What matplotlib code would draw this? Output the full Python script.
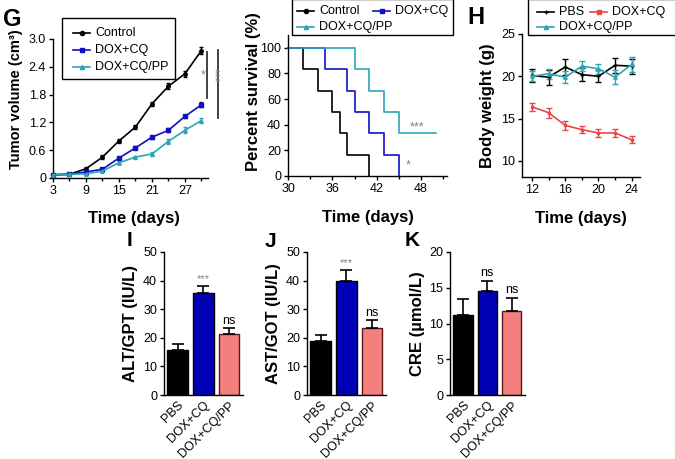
import matplotlib
matplotlib.use("Agg")
import matplotlib.pyplot as plt
from matplotlib.lines import Line2D
from matplotlib.patches import Rectangle

plt.rcParams['font.family'] = ['Liberation Sans', 'DejaVu Sans']
plt.rcParams['font.size'] = 9
plt.rcParams['axes.linewidth'] = 1.0

# ---- data ----
groups3 = ["Control", "DOX+CQ", "DOX+CQ/PP"]
tv_days = [3, 6, 9, 12, 15, 18, 21, 24, 27, 30]
tv_control = [0.07, 0.08, 0.20, 0.45, 0.80, 1.10, 1.60, 1.98, 2.25, 2.75]
tv_control_err = [0.02, 0.02, 0.04, 0.04, 0.05, 0.05, 0.05, 0.06, 0.07, 0.08]
tv_doxcq = [0.07, 0.08, 0.13, 0.19, 0.43, 0.65, 0.88, 1.03, 1.33, 1.58]
tv_doxcq_err = [0.01, 0.01, 0.02, 0.03, 0.02, 0.03, 0.03, 0.04, 0.04, 0.05]
tv_pp = [0.07, 0.08, 0.09, 0.15, 0.33, 0.45, 0.52, 0.79, 1.03, 1.24]
tv_pp_err = [0.01, 0.01, 0.02, 0.02, 0.03, 0.03, 0.04, 0.05, 0.06, 0.06]

sv_control_t = [30, 32, 34, 36, 37, 38, 41]
sv_control = [100, 83.3, 66.7, 50, 33.3, 16.7, 0]
sv_doxcq_t = [30, 35, 38, 39, 41, 43, 45]
sv_doxcq = [100, 83.3, 66.7, 50, 33.3, 16.7, 0]
sv_pp_t = [30, 39, 41, 43, 45, 50]
sv_pp = [100, 83.3, 66.7, 50, 33.3, 33.3]

bw_groups = ["PBS", "DOX+CQ", "DOX+CQ/PP"]
bw_days = [12, 14, 16, 18, 20, 22, 24]
bw_pbs = [20.1, 19.9, 21.1, 20.2, 20.0, 21.3, 21.2]
bw_pbs_err = [0.8, 0.9, 0.9, 0.8, 0.7, 0.9, 0.9]
bw_doxcq = [16.4, 15.7, 14.2, 13.7, 13.3, 13.3, 12.5]
bw_doxcq_err = [0.5, 0.6, 0.5, 0.4, 0.5, 0.5, 0.4]
bw_pp = [20.0, 20.3, 19.9, 21.2, 20.9, 19.9, 21.4]
bw_pp_err = [0.6, 0.6, 0.7, 0.6, 0.6, 0.8, 0.9]

bar_labels = ["PBS", "DOX+CQ", "DOX+CQ/PP"]
alt = [15.7, 35.8, 21.3]
alt_err = [2.1, 2.4, 2.2]
ast = [18.8, 40.0, 23.5]
ast_err = [2.1, 3.8, 2.6]
cre = [11.2, 14.6, 11.8]
cre_err = [2.2, 1.4, 1.8]
alt_sig = ["", "***", "ns"]
ast_sig = ["", "***", "ns"]
cre_sig = ["", "ns", "ns"]

black = "#000000"
blue = "#1010c0"
teal = "#2aa5b5"
red = "#e8474d"
barblue = "#0000b4"
pink = "#f47f7f"

W, H = 675, 459
fig = plt.figure(figsize=(W / 100, H / 100), dpi=100)


def add_ax(l, t, r, b):
    ax = fig.add_axes([l / W, 1 - b / H, (r - l) / W, (b - t) / H])
    ax.spines['top'].set_visible(False)
    ax.spines['right'].set_visible(False)
    ax.tick_params(length=3, width=1, pad=2, labelsize=9)
    return ax


def fx(x):
    return x / W


def fy(y):
    return 1 - y / H


def legend_box(box, items):
    # hand-placed legend, items: (handle x, row y, colour, marker, label)
    l, t, r, b = box
    fig.patches.append(Rectangle((fx(l), fy(b)), fx(r - l), (b - t) / H,
                                 transform=fig.transFigure, fill=True,
                                 facecolor='white', edgecolor='black', lw=1.0,
                                 zorder=5))
    for x, y, c, m, lab in items:
        fig.lines.append(Line2D([fx(x), fx(x + 17)], [fy(y), fy(y)],
                                transform=fig.transFigure, color=c, lw=1.2, zorder=6))
        fig.lines.append(Line2D([fx(x + 8.5)], [fy(y)], transform=fig.transFigure,
                                color=c, marker=m, ms=3, zorder=6))
        fig.text(fx(x + 22), fy(y), lab, fontsize=9, va='center', ha='left', zorder=6)


# ---- G: tumor volume ----
ax = add_ax(53, 39, 208, 178)
ax.errorbar(tv_days, tv_control, yerr=tv_control_err, color=black, marker='o', ms=2.5,
            lw=1.2, capsize=1.5, elinewidth=1, clip_on=False, zorder=3)
ax.errorbar(tv_days, tv_doxcq, yerr=tv_doxcq_err, color=blue, marker='s', ms=2.5,
            lw=1.2, capsize=1.5, elinewidth=1, clip_on=False, zorder=3)
ax.errorbar(tv_days, tv_pp, yerr=tv_pp_err, color=teal, marker='^', ms=2.5,
            lw=1.2, capsize=1.5, elinewidth=1, clip_on=False, zorder=3)
ax.set_xlim(3, 31.2)
ax.set_ylim(0, 3.0)
ax.set_xticks([3, 9, 15, 21, 27])
ax.set_xticks([6, 12, 18, 24, 30], minor=True)
ax.tick_params(which='minor', length=2.5, width=1)
ax.set_yticks([0, 0.6, 1.2, 1.8, 2.4, 3.0])
ax.set_yticklabels(["0", "0.6", "1.2", "1.8", "2.4", "3.0"])
ax.set_ylabel("Tumor volume (cm\u00b3)", fontsize=10.5, fontweight='bold')
ax.yaxis.set_label_coords(-0.195, 0.57)
ax.set_xlabel("Time (days)", fontsize=12, fontweight='bold')
ax.xaxis.set_label_coords(0.52, -0.24)
ax.plot([31.1, 31.1], [2.73, 1.73], color="#333333", lw=1.3, clip_on=False)
ax.plot([33.0, 33.0], [2.76, 1.30], color="#333333", lw=1.3, clip_on=False)
ax.text(30.35, 2.22, "*", color="gray", fontsize=9, ha='center', va='center')
ax.text(32.1, 2.22, "***", color="gray", fontsize=9, ha='center', va='center', rotation=270)
legend_box((62, 18, 175, 79), [(73, 33, black, 'o', groups3[0]),
                               (73, 50, blue, 's', groups3[1]),
                               (73, 67, teal, '^', groups3[2])])
fig.text(fx(3), fy(26), "G", fontsize=17, fontweight='bold')

# ---- survival ----
ax = add_ax(288, 35, 447, 176)
ax.step(sv_control_t, sv_control, where='post', color=black, lw=1.2, clip_on=False)
ax.step(sv_doxcq_t, sv_doxcq, where='post', color=blue, lw=1.2, clip_on=False)
ax.step(sv_pp_t, sv_pp, where='post', color=teal, lw=1.2, clip_on=False)
ax.set_xlim(30, 51.5)
ax.set_ylim(0, 110)
ax.set_xticks([30, 36, 42, 48])
ax.set_xticks([33, 39, 45, 51], minor=True)
ax.tick_params(which='minor', length=2.5, width=1)
ax.set_yticks([0, 20, 40, 60, 80, 100])
ax.set_ylabel("Percent survival (%)", fontsize=12, fontweight='bold')
ax.yaxis.set_label_coords(-0.17, 0.6)
ax.set_xlabel("Time (days)", fontsize=12, fontweight='bold')
ax.xaxis.set_label_coords(0.5, -0.24)
ax.text(47.5, 38, "***", color="gray", fontsize=9, ha='center', va='center')
ax.text(46.2, 8, "*", color="gray", fontsize=9, ha='center', va='center')
legend_box((292, -1, 453, 35), [(297, 11, black, 'o', groups3[0]),
                                (373, 11, blue, 's', groups3[1]),
                                (297, 27, teal, '^', groups3[2])])

# ---- H: body weight ----
ax = add_ax(522, 34, 640, 177)
ax.errorbar(bw_days, bw_pbs, yerr=bw_pbs_err, color=black, marker='+', ms=3,
            lw=1.2, capsize=2, elinewidth=1, zorder=3)
ax.errorbar(bw_days, bw_doxcq, yerr=bw_doxcq_err, color=red, marker='s', ms=2,
            lw=1.2, capsize=2, elinewidth=1, zorder=3)
ax.errorbar(bw_days, bw_pp, yerr=bw_pp_err, color=teal, marker='^', ms=2.5,
            lw=1.2, capsize=2, elinewidth=1, zorder=3)
ax.set_xlim(10.8, 25.0)
ax.set_ylim(8.1, 25)
ax.set_xticks([12, 16, 20, 24])
ax.set_xticks([14, 18, 22], minor=True)
ax.tick_params(which='minor', length=2.5, width=1)
ax.set_yticks([10, 15, 20, 25])
ax.set_ylabel("Body weight (g)", fontsize=12, fontweight='bold')
ax.yaxis.set_label_coords(-0.23, 0.5)
ax.set_xlabel("Time (days)", fontsize=12, fontweight='bold')
ax.xaxis.set_label_coords(0.5, -0.24)
legend_box((528, -1, 676, 35), [(537, 12, black, '+', bw_groups[0]),
                                (590, 12, red, 's', bw_groups[1]),
                                (537, 27, teal, '^', bw_groups[2])])
fig.text(fx(467), fy(24), "H", fontsize=17, fontweight='bold')


# ---- bar panels ----
def bar_panel(box, vals, errs, sigs, ymax, yticks, ylabel, letter, lpos, sig_off):
    ax = add_ax(*box)
    xs = range(len(vals))
    ax.bar(xs, vals, width=0.8, color=[black, barblue, pink],
           edgecolor=["#000000", "#000000", "#5a1a1a"], linewidth=1.0, zorder=2)
    ax.errorbar(xs, vals, yerr=[[0] * len(errs), errs], fmt='none', ecolor=black,
                elinewidth=1.2, capsize=4, capthick=1.2, zorder=3)
    for x, v, e, s in zip(xs, vals, errs, sigs):
        if s == "***":
            ax.text(x, v + e + sig_off * 0.5, s, color="gray", fontsize=8,
                    ha='center', va='bottom')
        elif s:
            ax.text(x, v + e + sig_off * 0.3, s, color=black, fontsize=9,
                    ha='center', va='bottom')
    ax.set_xlim(-0.53, 2.55)
    ax.set_ylim(0, ymax)
    ax.set_yticks(yticks)
    ax.set_xticks(list(xs))
    ax.set_xticklabels(bar_labels, rotation=45, ha='right', va='top',
                       rotation_mode='anchor', fontsize=9)
    ax.tick_params(axis='x', length=0, pad=3)
    ax.set_ylabel(ylabel, fontsize=12, fontweight='bold')
    ax.yaxis.set_label_coords(-0.33, 0.5)
    fig.text(fx(lpos[0]), fy(lpos[1]), letter, fontsize=15, fontweight='bold')
    return ax


bar_panel((164, 252, 243, 395), alt, alt_err, alt_sig, 50, [0, 10, 20, 30, 40, 50],
          "ALT/GPT (IU/L)", "I", (127, 246), 1.5)
bar_panel((307, 252, 386, 395), ast, ast_err, ast_sig, 50, [0, 10, 20, 30, 40, 50],
          "AST/GOT (IU/L)", "J", (265, 247), 1.5)
bar_panel((450, 252, 525, 395), cre, cre_err, cre_sig, 20, [0, 5, 10, 15, 20],
          "CRE (\u00b5mol/L)", "K", (405, 246), 0.6)

fig.savefig("out.png", dpi=100)
